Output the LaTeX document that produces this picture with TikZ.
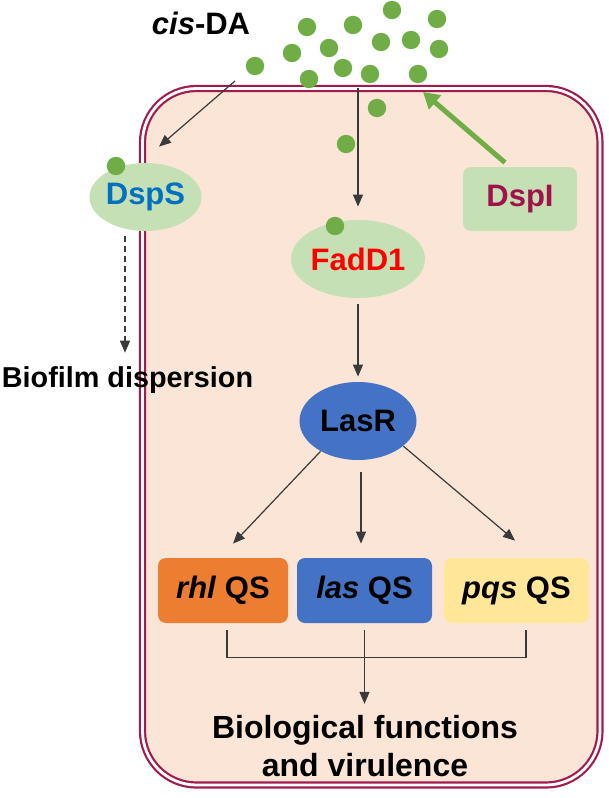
\documentclass[tikz,border=0pt]{standalone}
\usepackage{fontspec}
\setmainfont{Liberation Sans}
\usetikzlibrary{shapes.geometric,arrows.meta}

\definecolor{cellfill}{HTML}{FBE5D6}
\definecolor{cellline}{HTML}{A01C4E}
\definecolor{protgreen}{HTML}{C5E0B4}
\definecolor{dotgreen}{HTML}{70AD47}
\definecolor{dspsblue}{HTML}{0070C0}
\definecolor{dspired}{HTML}{A0124C}
\definecolor{lasblue}{HTML}{4472C4}
\definecolor{rhlorange}{HTML}{ED7D31}
\definecolor{pqsyellow}{HTML}{FFE699}
\definecolor{arrowgray}{HTML}{3A3A3A}

\tikzset{
  lbl/.style={font=\fontsize{15.5}{19}\selectfont\bfseries, inner sep=0pt},
  prot/.style={ellipse, fill=protgreen, lbl},
  qsbox/.style={rectangle, rounded corners=4pt, lbl, minimum height=32.5pt},
  arr/.style={draw=arrowgray, line width=0.6pt, -{Triangle[length=6pt,width=5pt]}},
  bracket/.style={draw=arrowgray, line width=0.6pt}
}

\begin{document}
\begin{tikzpicture}[x=0.5pt,y=-0.5pt]
\useasboundingbox (0,0) rectangle (609,798);
\draw[cellline, line width=1.1pt, double=white, double distance=1.4pt, fill=cellfill,
  rounded corners=27pt] (142.5,88.5) rectangle (600,785);

\foreach \x/\y in {255/66, 292/53, 307/27, 329/48, 309/79, 343/68, 353/25, 370/74,
  392/10, 381/42, 411/40, 437/19, 439/49, 418/74, 377/108, 346/144}
  \fill[dotgreen] (\x,\y) circle[radius=4.6pt];

\node[lbl, anchor=base] (cisda) at (201,34) {\textit{cis}-DA};
\node[prot, minimum width=52.5pt, minimum height=34pt, text=dspsblue] (dsps) at (145.5,197) {DspS};
\fill[dotgreen] (116,166) circle[radius=4.6pt];
\node[prot, minimum width=58.5pt, minimum height=39pt, text=red] (fadd) at (358,259) {FadD1};
\fill[dotgreen] (335,226) circle[radius=4.6pt];
\node[rectangle, rounded corners=4pt, fill=protgreen, lbl, text=dspired,
  minimum width=57pt, minimum height=32pt] (dspi) at (520,199) {DspI};
\node[ellipse, fill=lasblue, lbl, minimum width=58.5pt, minimum height=39pt] (lasr) at (358,421) {LasR};

\node[qsbox, fill=rhlorange, minimum width=65pt] (rhl) at (223,590.5) {\textit{rhl} QS};
\node[qsbox, fill=lasblue, minimum width=67.5pt] (las) at (364.5,590.5) {\textit{las} QS};
\node[qsbox, fill=pqsyellow, minimum width=72.5pt] (pqs) at (516.5,590.5) {\textit{pqs} QS};

\node[lbl, font=\fontsize{14.4}{17}\selectfont\bfseries, anchor=base] (biofilm) at (127.5,387) {Biofilm dispersion};
\node[lbl, font=\fontsize{16}{19}\selectfont\bfseries, align=center] (biofn) at (365,746) {Biological functions\\and virulence};

\coordinate (daout) at (235,81);
\coordinate (dain) at (358,88);
\coordinate (dspiout) at (423,92);
\coordinate (dspsdown) at ([xshift=-10.25pt,yshift=-2.5pt]dsps.south);

\draw[arr] (daout) -- ([xshift=6.75pt,yshift=8pt]dsps.north);
\draw[arr] (dain) -- ([yshift=6.5pt]fadd.north);
\draw[arr, shorten <=3pt, shorten >=2.5pt] (fadd.south) -- (lasr.north);
\draw[arr, dash pattern=on 3pt off 2pt, shorten >=6.5pt] (dspsdown) -- (dspsdown |- biofilm.north);
\draw[dotgreen, line width=2.5pt, -{Triangle[length=8pt,width=9pt]}]
  ([xshift=-7.5pt,yshift=2pt]dspi.north) -- (dspiout);

\draw[arr] (lasr.219) -- ([xshift=5pt,yshift=7pt]rhl.north);
\draw[arr, shorten <=6pt] ([xshift=1.5pt]lasr.south) -- ([xshift=-1.75pt,yshift=7pt]las.north);
\draw[arr] (lasr.331) -- ([xshift=-0.75pt,yshift=8.5pt]pqs.north);

\draw[bracket] ([xshift=2pt,yshift=-3.5pt]rhl.south) -- ++(0,27) -| ([xshift=4.75pt,yshift=-3.5pt]pqs.south);
\draw[arr, shorten >=5.5pt] ([yshift=-3.5pt]las.south) -- (las.south |- biofn.north);
\end{tikzpicture}
\end{document}
